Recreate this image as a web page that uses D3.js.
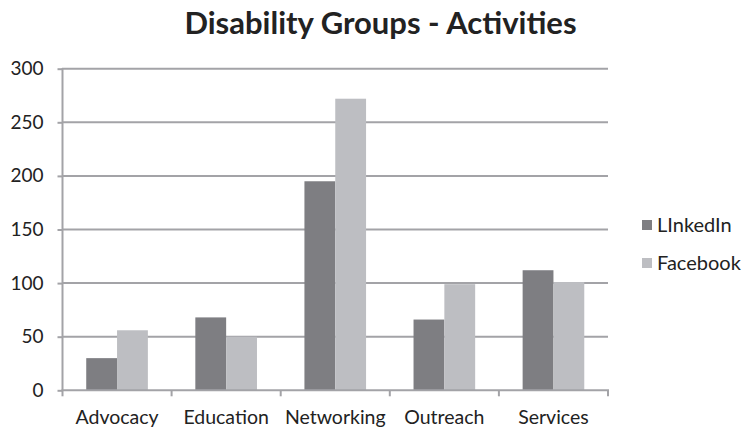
<!DOCTYPE html>
<html><head><meta charset="utf-8">
<script src="https://cdn.jsdelivr.net/npm/d3@7"></script>
<style>body{margin:0;background:#fff}svg{display:block}text{font-family:Lato,"Open Sans",sans-serif;fill:#222}</style>
</head><body>
<script>
const categories = ["Advocacy","Education","Networking","Outreach","Services"];
const seriesNames = ["LInkedIn","Facebook"];
const linkedin = [30,68,195,66,112];
const facebook = [56,50,272,99,101];
const yTicks = [0,50,100,150,200,250,300];
const colors = ["#7e7e82","#bdbec2"];

const W=742,H=429;
const svg=d3.select("body").append("svg").attr("width",W).attr("height",H);
const x0=d3.scaleBand().domain(categories).range([62.5,608]).paddingInner(0).paddingOuter(0);
const x1=d3.scaleBand().domain(seriesNames).range([0,x0.bandwidth()]).paddingInner(0).paddingOuter(0.77);
const y=d3.scaleLinear().domain([0,300]).range([390.3,68.7]);

// gridlines
svg.append("g").selectAll("line").data(yTicks.filter(d=>d>0)).join("line")
 .attr("x1",62).attr("x2",608).attr("y1",d=>y(d)).attr("y2",d=>y(d))
 .attr("stroke","#a3a3a7").attr("stroke-width",2);

// bars
const data=[linkedin,facebook];
seriesNames.forEach((s,i)=>{
  svg.append("g").selectAll("rect").data(categories).join("rect")
   .attr("x",c=>x0(c)+x1(s)).attr("width",x1.bandwidth())
   .attr("y",(c,j)=>y(data[i][j])).attr("height",(c,j)=>y(0)-y(data[i][j]))
   .attr("fill",colors[i]);
});

// y axis
const ya=svg.append("g").attr("transform","translate(62.5,0)")
 .call(d3.axisLeft(y).tickValues(yTicks).tickSize(5).tickPadding(14));
ya.select(".domain").attr("stroke","#a3a3a7").attr("stroke-width",2).attr("d","M0,68V391");
ya.selectAll(".tick line").attr("stroke","#a3a3a7").attr("stroke-width",2);
ya.selectAll("text").attr("font-size",19).attr("fill","#222").style("font-family","Lato,sans-serif");

// x axis
const xa=svg.append("g").attr("transform","translate(0,390.3)");
xa.append("line").attr("x1",61.5).attr("x2",609).attr("stroke","#a3a3a7").attr("stroke-width",2);
xa.selectAll("line.t").data(categories.concat(["end"])).join("line").attr("class","t")
 .attr("x1",(c,i)=>i<categories.length?x0(c):x0.range()[1]).attr("x2",(c,i)=>i<categories.length?x0(c):x0.range()[1])
 .attr("y1",0).attr("y2",6).attr("stroke","#a3a3a7").attr("stroke-width",2);
xa.selectAll("text").data(categories).join("text")
 .attr("x",c=>x0(c)+x0.bandwidth()/2).attr("y",34).attr("text-anchor","middle")
 .attr("font-size",19.5).text(c=>c);

// title
svg.append("text").attr("x",380.5).attr("y",34).attr("text-anchor","middle")
 .attr("font-size",31).attr("font-weight","bold").text("Disability Groups - Activities");

// legend
const lg=svg.append("g");
seriesNames.forEach((s,i)=>{
  const yy=225+i*38;
  lg.append("rect").attr("x",642).attr("y",yy-5).attr("width",10).attr("height",10).attr("fill",colors[i]);
  lg.append("text").attr("x",657).attr("y",yy+7).attr("font-size",20).text(s);
});
</script>
</body></html>
